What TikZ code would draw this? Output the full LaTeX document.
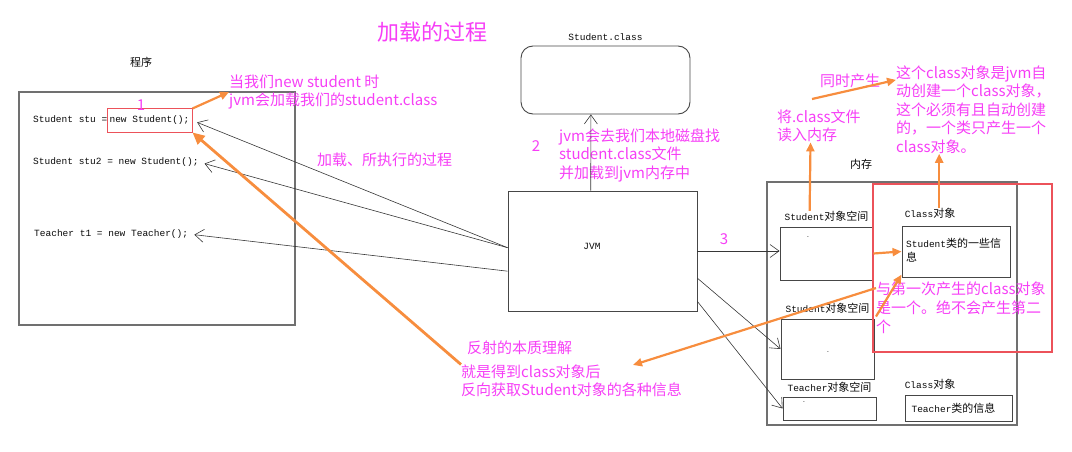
\documentclass[tikz,border=0pt]{standalone}
\usepackage{fontspec}
\setmainfont{Noto Sans CJK SC}
\newfontfamily\codefont{Liberation Mono}
\usepackage{tikz}
\usetikzlibrary{
  arrows.meta,
  positioning,
  calc
}
\definecolor{notecolor}{RGB}{246, 62, 246}
\definecolor{hintcolor}{RGB}{247, 141, 62}
\definecolor{framecolor}{RGB}{112, 112, 112}
\definecolor{boxcolor}{RGB}{70, 70, 70}
\definecolor{markcolor}{RGB}{236, 82, 90}
\definecolor{wirecolor}{RGB}{55, 55, 55}
\definecolor{labelcolor}{RGB}{10, 10, 10}
\newcommand{\monotext}[1]{{\codefont\fontsize{9.5}{11}\selectfont #1}}
\tikzset{
codeline/.style={
  font=\codefont\fontsize{9.5}{11}\selectfont,
  text=labelcolor,
  inner sep=0pt
},
boxlabel/.style={
  font=\fontsize{11}{13}\selectfont,
  text=labelcolor,
  inner sep=0pt
},
notetext/.style={
  font=\fontsize{15}{18.5}\selectfont,
  text=notecolor,
  align=left,
  inner sep=0pt
},
outerframe/.style={
  draw=framecolor,
  line width=1.3pt
},
innerframe/.style={
  draw=boxcolor,
  line width=0.9pt
},
markframe/.style={
  draw=markcolor,
  line width=1pt
},
wirearrow/.style={
  -{Straight Barb[length=9pt,width=13pt]},
  line width=0.6pt,
  draw=wirecolor
},
hintarrow/.style={
  -{Triangle[length=9pt,width=8pt]},
  line width=2.2pt,
  draw=hintcolor
}
}

\begin{document}
\begin{tikzpicture}[x=1pt, y=-1pt]
\useasboundingbox (0,0) rectangle (1072,452);

\node[notetext, font=\fontsize{22}{26}\selectfont] (title) at (432,32) {加载的过程};

\node[outerframe, minimum width=276pt, minimum height=233pt] (program) at (157,208.5) {};
\node[boxlabel] (programlabel) at (141,62) {程序};
\node[codeline, anchor=west] (stu) at (33,119) {Student stu =};
\node[codeline, markframe, inner sep=2pt, minimum width=85pt, minimum height=23pt] (newstu) at (149.5,120.5) {new Student();};
\node[codeline, anchor=west] (stutwo) at (33,162) {Student stu2 = new Student();};
\node[codeline, anchor=west] (teach) at (34,234) {Teacher t1 = new Teacher();};
\node[notetext] (stepone) at (141,105) {1};
\node[notetext, anchor=north west] (whennote) at (229,74.5) {当我们new student 时\\jvm会加载我们的student.class};
\node[notetext, anchor=west] (loadnote) at (317,160) {加载、所执行的过程};

\node[innerframe, rounded corners=12pt, minimum width=169pt, minimum height=68pt] (classfile) at (605.5,80) {};
\node[codeline, above=5pt of classfile] (classfilelabel) {Student.class};
\node[notetext] (steptwo) at (536,146) {2};
\node[notetext, anchor=north west] (disknote) at (559,128.5) {jvm会去我们本地磁盘找\\student.class文件\\并加载到jvm内存中};

\node[innerframe, minimum width=189pt, minimum height=120pt] (jvm) at (602.5,251) {};
\node[codeline] (jvmlabel) at (592,246) {JVM};
\node[notetext] (stepthree) at (724,239) {3};

\node[outerframe, minimum width=250pt, minimum height=243pt] (memory) at (892,303.5) {};
\node[boxlabel] (memorylabel) at (861,164) {内存};
\node[innerframe, minimum width=93pt, minimum height=53pt] (stuspace) at (826.5,253.5) {};
\node[boxlabel, above=5pt of stuspace] (stulabel) {\monotext{Student}对象空间};
\node[innerframe, minimum width=93pt, minimum height=60pt] (stutwospace) at (827.5,349) {};
\node[boxlabel, above=5pt of stutwospace] (stutwolabel) {\monotext{Student}对象空间};
\node[innerframe, minimum width=93pt, minimum height=23pt] (teachspace) at (829.5,408.5) {};
\node[boxlabel, above=4pt of teachspace] (teachlabel) {\monotext{Teacher}对象空间};
\foreach \tx/\ty [count=\i] in {808/239, 828/354, 804/404}
  \node[codeline, font=\codefont\fontsize{7}{8}\selectfont] (tick\i) at (\tx,\ty) {\textasciigrave};

\node[innerframe, minimum width=108pt, minimum height=51pt] (classbox) at (956,251.5) {};
\node[boxlabel, above right=7pt and 3pt of classbox.north west] (classlabel) {\monotext{Class}对象};
\node[boxlabel, align=left, anchor=north west, font=\fontsize{11}{14}\selectfont] (classinfo) at (906,238) {\monotext{Student}类的一些信\\息};
\node[innerframe, minimum width=107pt, minimum height=26pt] (classtwobox) at (958.5,408) {};
\node[boxlabel, above right=5pt and 0pt of classtwobox.north west] (classtwolabel) {\monotext{Class}对象};
\node[boxlabel] (teachinfo) at (953.5,408) {\monotext{Teacher}类的信息};
\node[draw=markcolor, line width=2pt, minimum width=179pt, minimum height=168pt] (samebox) at (962.5,268) {};

\node[notetext, anchor=north west] (readnote) at (777,109.5) {将.class文件\\读入内存};
\node[notetext] (bornnote) at (850,81) {同时产生};
\node[notetext, anchor=north west] (classnote) at (896,65.5) {这个class对象是jvm自\\动创建一个class对象，\\这个必须有且自动创建\\的，一个类只产生一个\\class对象。};
\node[notetext, anchor=north west, font=\fontsize{15}{19}\selectfont] (samenote) at (876,281.5) {与第一次产生的class对象\\是一个。绝不会产生第二\\个};
\node[notetext, anchor=west] (reflecttitle) at (467,348) {反射的本质理解};
\node[notetext, anchor=north west] (reflectnote) at (461,364.5) {就是得到class对象后\\反向获取Student对象的各种信息};

\draw[wirearrow, shorten >=5pt] (jvm.178) -- (newstu.east);
\draw[wirearrow, shorten >=6pt] (jvm.178) -- (stutwo.east);
\draw[wirearrow, shorten >=6pt] (jvm.192) -- (teach.east);
\draw[wirearrow] (jvm.101) -- (classfile.247);
\draw[wirearrow] (jvm.east) -- (jvm.east -| stuspace.west);
\draw[wirearrow] (jvm.-16) -- (stutwospace.west);
\draw[wirearrow] (jvm.-28) -- (teachspace.west);

\draw[hintarrow] (newstu.north east) -- (whennote.west);
\draw[hintarrow, line width=2.8pt, -{Triangle[length=12pt,width=11pt]}] (reflectnote.north west) -- (newstu.south east);
\draw[hintarrow] (stuspace.east) -- (classbox.west);
\draw[hintarrow] (samenote.186) -- (classbox.203);
\coordinate (reflecttip) at (633,365);
\draw[hintarrow] (samenote.167) -- (reflecttip);
\draw[hintarrow] ($(stulabel.north)!0.4!(stulabel.north west)$) -- ($(readnote.south)!0.2!(readnote.south west)$);
\coordinate (bornstart) at (812,99);
\draw[hintarrow] (bornstart) -- (classnote.159);
\coordinate (classfoot) at ($(classlabel.north)!0.36!(classlabel.north east)$);
\draw[hintarrow] (classfoot) -- (classfoot |- classnote.south);
\end{tikzpicture}
\end{document}
